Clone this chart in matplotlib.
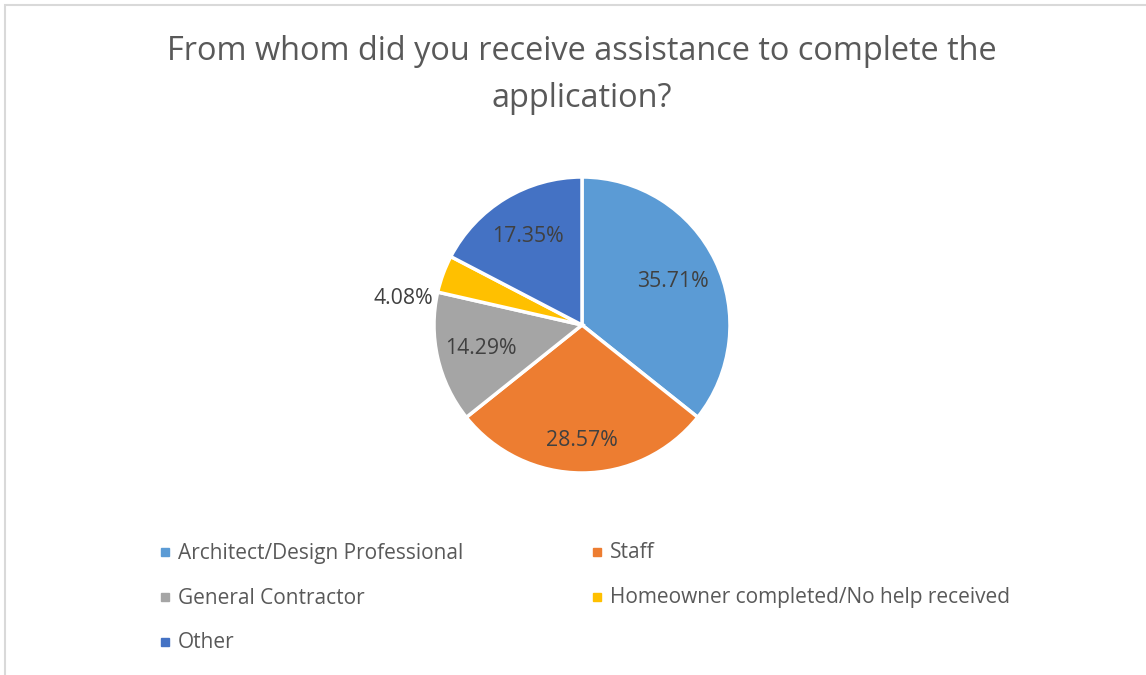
import numpy as np
import matplotlib

matplotlib.use("Agg")
import matplotlib.pyplot as plt
from matplotlib.patches import Rectangle

TITLE = "From whom did you receive assistance to complete the\napplication?"
categories = ["Architect/Design Professional", "Staff", "General Contractor",
              "Homeowner completed/No help received", "Other"]
shares = [35.71, 28.57, 14.29, 4.08, 17.35]
colors = ["#5B9BD5", "#ED7D31", "#A5A5A5", "#FFC000", "#4472C4"]

# label placement (fraction of radius, optional angle override in degrees)
label_r = [0.68, 0.78, 0.70, 1.22, 0.70]
label_ang = [None, None, None, 171.7, None]

W, H = 1146, 675
plt.rcParams["font.family"] = ["Open Sans", "DejaVu Sans"]
fig = plt.figure(figsize=(W / 100, H / 100), dpi=100)
ax = fig.add_axes([0, 0, 1, 1])
ax.set_xlim(0, W); ax.set_ylim(0, H); ax.set_aspect("equal"); ax.axis("off")

# chart-area border (only top/left visible in the crop)
ax.add_patch(Rectangle((5, -10), W + 10, H - 5 + 10, fill=False, ec="#D9D9D9", lw=1.5))

cx, cy, R = 582, H - 325, 148
wedges, _ = ax.pie(shares, colors=colors, startangle=90, counterclock=False,
                   center=(cx, cy), radius=R, frame=True,
                   wedgeprops=dict(edgecolor="white", linewidth=2.5))
ax.set_xlim(0, W); ax.set_ylim(0, H); ax.axis("off")

for w, v, r, a in zip(wedges, shares, label_r, label_ang):
    ang = (w.theta1 + w.theta2) / 2 if a is None else a
    t = np.deg2rad(ang)
    ax.text(cx + r * R * np.cos(t), cy + r * R * np.sin(t), f"{v:.2f}%",
            ha="center", va="center", fontsize=15.3, color="#404040")

ax.text(582, H - 75, TITLE, ha="center", va="center", fontsize=23.4,
        color="#595959", linespacing=1.55)

# legend (two columns, Excel style)
col_x = [165, 597]
row_y = [552, 597, 642]
for i, (name, c) in enumerate(zip(categories, colors)):
    x = col_x[i % 2]; y = H - row_y[i // 2]
    ax.add_patch(Rectangle((x - 4, y - 4), 8, 8, color=c))
    ax.text(x + 13, y - 1, name, ha="left", va="center", fontsize=15, color="#595959")

fig.savefig("out.png", dpi=100)
